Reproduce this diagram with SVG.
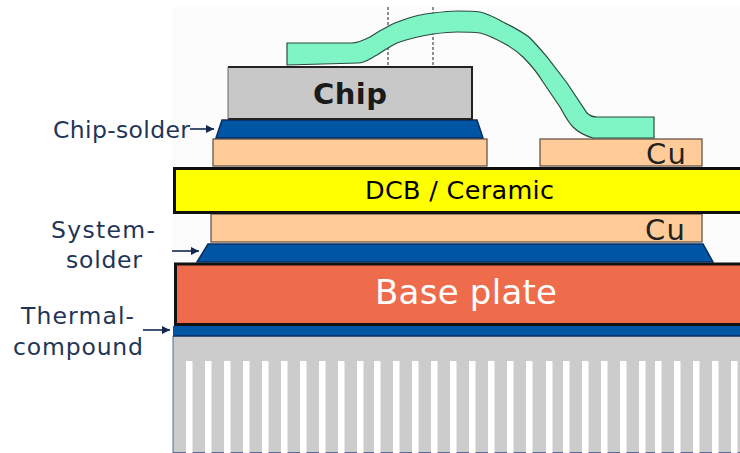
<svg xmlns="http://www.w3.org/2000/svg" width="740" height="453" viewBox="0 0 740 453">
<style>
.lbl{font-family:"DejaVu Sans",sans-serif;font-size:23.500px;fill:#1f3557}
.cu{fill:#ffcc99;stroke:#5c4a3c;stroke-width:1.2}
.cut{font-family:"DejaVu Sans",sans-serif;font-size:29px;fill:#222}
.solder{fill:#0055a5;stroke:#0c2c5c;stroke-width:1.5}
.arr{stroke:#12264f;stroke-width:1.6;fill:none;marker-end:url(#ah)}
.fin{fill:#fff}
</style>
<defs>
<marker id="ah" markerUnits="userSpaceOnUse" markerWidth="9" markerHeight="9" refX="8" refY="4" orient="auto"><path d="M0 0L8 4L0 8z" fill="#12264f"/></marker>
</defs>
<rect x="0" y="0" width="740" height="453" fill="#fff"/>
<rect x="172" y="7" width="568" height="446" fill="#fbfcfb"/>
<g id="connectors">
<path class="arr" d="M190 129H214"/>
<path class="arr" d="M172 251H199"/>
<path class="arr" d="M143 330H170"/>
<path d="M388 7V65M433 7V65" stroke="#222" stroke-width="1" stroke-dasharray="3 2" fill="none"/>
</g>
<g id="heatsink">
<rect x="173" y="336" width="567" height="117" fill="#cccccc"/>
<path d="M173 336V453" stroke="#5a6a94" stroke-width="1" fill="none"/>
<path d="M173 452.500H740" stroke="#5a6a94" stroke-width="1" fill="none"/>
<g class="fin">
<rect x="186" y="361" width="6.500" height="92"/><rect x="205" y="361" width="6.500" height="92"/><rect x="224" y="361" width="6.500" height="92"/><rect x="243" y="361" width="6.500" height="92"/><rect x="262" y="361" width="6.500" height="92"/><rect x="281" y="361" width="6.500" height="92"/><rect x="300" y="361" width="6.500" height="92"/><rect x="319" y="361" width="6.500" height="92"/><rect x="338" y="361" width="6.500" height="92"/><rect x="357" y="361" width="6.500" height="92"/><rect x="374" y="361" width="6.500" height="92"/><rect x="393" y="361" width="6.500" height="92"/><rect x="412" y="361" width="6.500" height="92"/><rect x="431" y="361" width="6.500" height="92"/><rect x="450" y="361" width="6.500" height="92"/><rect x="469" y="361" width="6.500" height="92"/><rect x="488" y="361" width="6.500" height="92"/><rect x="507" y="361" width="6.500" height="92"/><rect x="526" y="361" width="6.500" height="92"/><rect x="546" y="361" width="6.500" height="92"/><rect x="563" y="361" width="6.500" height="92"/><rect x="582" y="361" width="6.500" height="92"/><rect x="601" y="361" width="6.500" height="92"/><rect x="620" y="361" width="6.500" height="92"/><rect x="639" y="361" width="6.500" height="92"/><rect x="655" y="361" width="6.500" height="92"/><rect x="674" y="361" width="6.500" height="92"/><rect x="693" y="361" width="6.500" height="92"/><rect x="712" y="361" width="6.500" height="92"/><rect x="731" y="361" width="6.500" height="92"/>
</g>
</g>
<g id="thermal-compound">
<rect x="173" y="326" width="567" height="10" fill="#0055a5"/>
<path d="M173 336H740" stroke="#0c2c5c" stroke-width="1.500"/>
</g>
<g id="base-plate">
<rect x="175.500" y="264" width="566" height="60.500" fill="#ee6c4b" stroke="#111" stroke-width="3"/>
<text x="375" y="304" textLength="182" lengthAdjust="spacing" font-family="DejaVu Sans,sans-serif" font-size="34" fill="#fff">Base plate</text>
</g>
<g id="system-solder">
<path class="solder" d="M197 262L208 244H703L713 262z"/>
</g>
<g id="cu-bottom">
<rect class="cu" x="211" y="214" width="491" height="28"/>
<text class="cut" x="645" y="240" textLength="40">Cu</text>
</g>
<g id="cu-top-left">
<rect class="cu" x="213" y="139" width="274" height="27"/>
</g>
<g id="cu-top-right">
<rect class="cu" x="540" y="139" width="162" height="27"/>
<text class="cut" x="646" y="164" textLength="40">Cu</text>
</g>
<g id="ceramic">
<rect x="174.500" y="168.500" width="567" height="44" fill="#ffff00" stroke="#111" stroke-width="3"/>
<text x="365" y="199" textLength="189" lengthAdjust="spacing" font-family="DejaVu Sans,sans-serif" font-size="25.500" fill="#000">DCB / Ceramic</text>
</g>
<g id="chip-solder">
<path class="solder" d="M216 138L222 120H477L483 138z"/>
</g>
<g id="chip">
<rect x="228" y="67" width="244" height="52" fill="#c8c8c8"/>
<path d="M228 67H472V119H228" fill="none" stroke="#222" stroke-width="2"/>
<path d="M228 67V119" fill="none" stroke="#666" stroke-width="1"/>
<text x="313" y="104" textLength="74" lengthAdjust="spacing" font-family="DejaVu Sans,sans-serif" font-weight="bold" font-size="29" fill="#1a1a1a">Chip</text>
</g>
<g id="bond-wire">
<path d="M287 65V43H352C358 43 364 40 370 37C376 33 381 30 387 27C392 24 398 22 403 20C414 16 424 14 433 13C441 12 449 11 457 11C465 11 473 11 480 12C488 14 496 18 503 22C513 27 523 32 530 38C536 44 541 50 547 57L567 83L587 113C590 116 593 117 597 117H654V138H593C586 136 579 133 573 127C568 122 564 114 560 107L543 82C537 72 530 64 523 57C518 52 512 48 507 45C498 40 489 35 480 33C472 32 465 32 457 32C449 32 441 33 433 34C420 36 408 39 397 43C390 46 384 51 377 55C371 58 365 63 358 63Z" fill="#7ff5c5"/>
<path d="M287 65V43H352C358 43 364 40 370 37C376 33 381 30 387 27C392 24 398 22 403 20C414 16 424 14 433 13C441 12 449 11 457 11C465 11 473 11 480 12C488 14 496 18 503 22C513 27 523 32 530 38C536 44 541 50 547 57L567 83L587 113C590 116 593 117 597 117H654V138H593C586 136 579 133 573 127C568 122 564 114 560 107L543 82C537 72 530 64 523 57C518 52 512 48 507 45C498 40 489 35 480 33C472 32 465 32 457 32C449 32 441 33 433 34C420 36 408 39 397 43C390 46 384 51 377 55C371 58 365 63 358 63Z" fill="none" stroke="#2b4a40" stroke-width="1.200"/>
</g>
<g id="labels">
<text class="lbl" x="53" y="138" textLength="137">Chip-solder</text>
<text class="lbl" x="51" y="238" textLength="104">System-</text>
<text class="lbl" x="66" y="268" textLength="76">solder</text>
<text class="lbl" x="21" y="324" textLength="113">Thermal-</text>
<text class="lbl" x="13" y="355" textLength="130">compound</text>
</g>
</svg>
